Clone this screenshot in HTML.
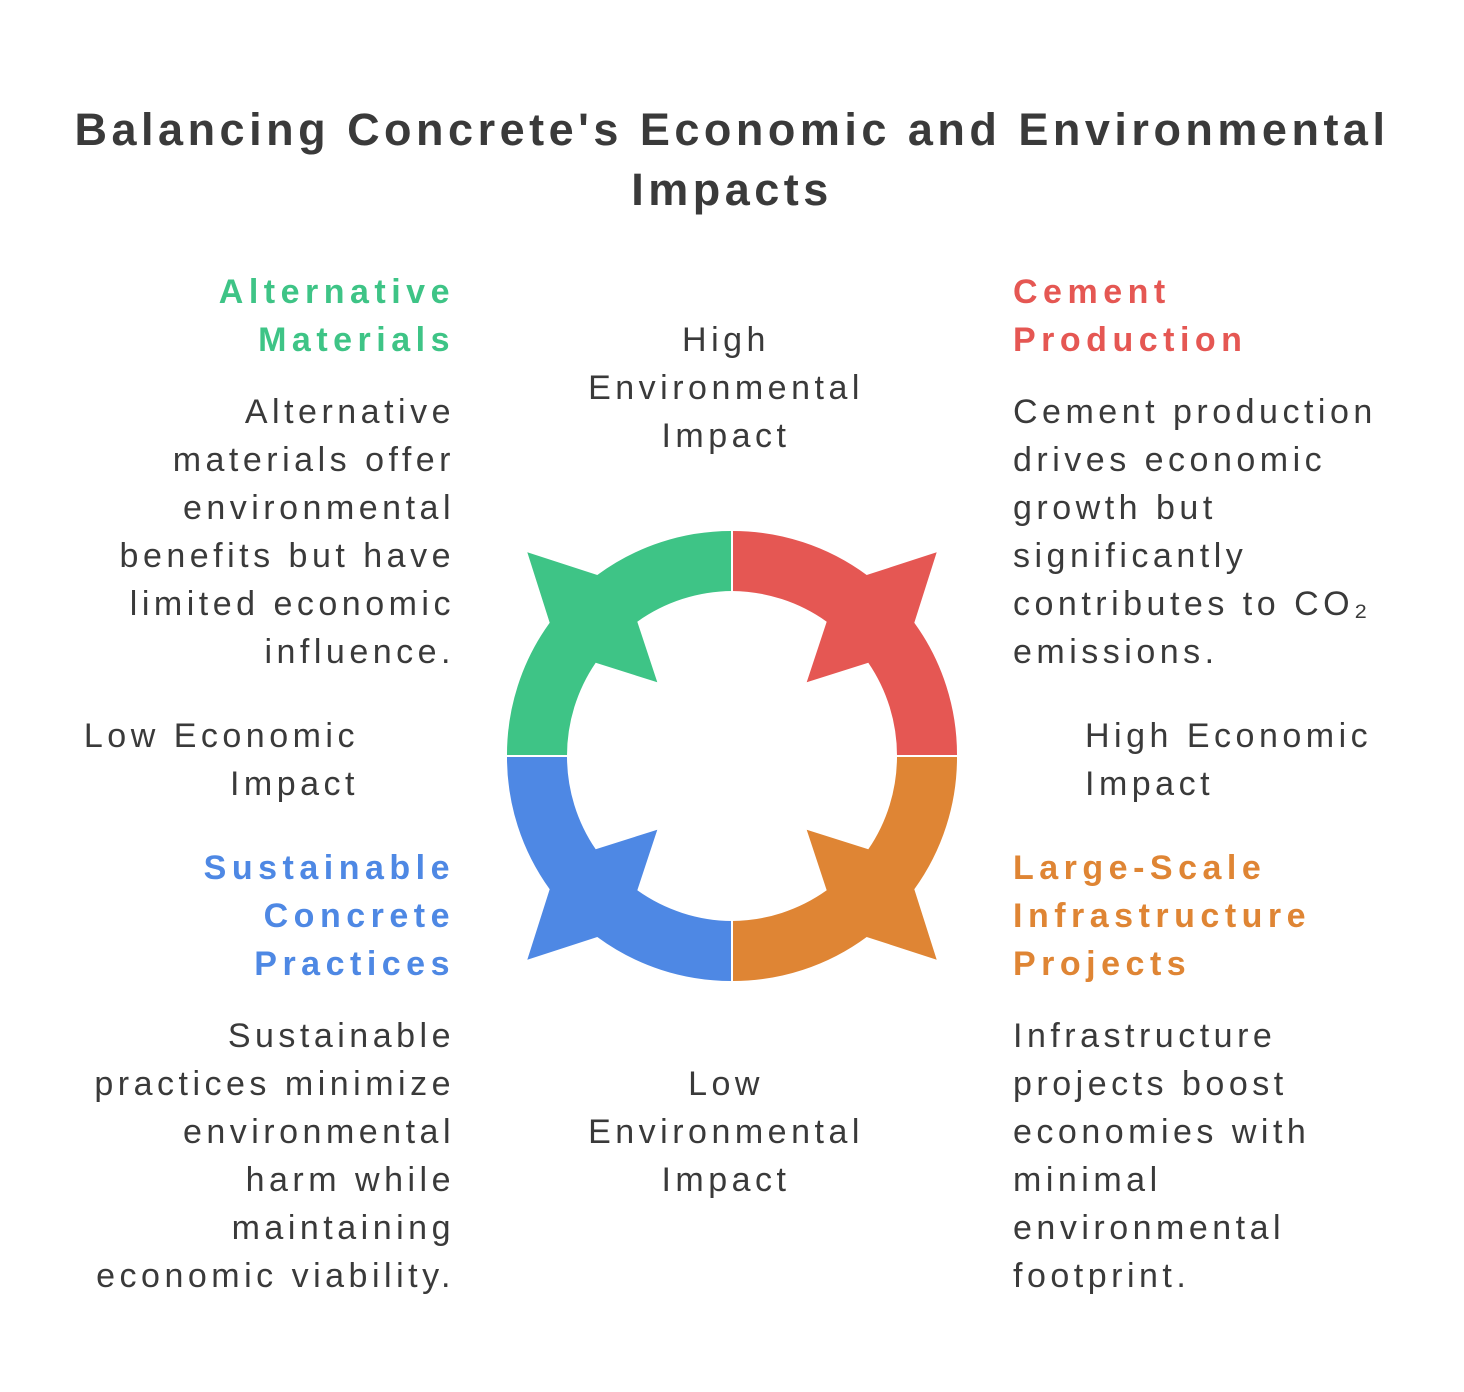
<!DOCTYPE html>
<html><head><meta charset="utf-8"><style>
body{margin:0;width:1464px;height:1392px;background:#fff;position:relative;font-family:"Liberation Sans",sans-serif;color:#3a3a3a;overflow:hidden}
.t{position:absolute;font-size:34px;line-height:48px;letter-spacing:4.5px;white-space:nowrap}
.h{font-weight:bold;letter-spacing:5.5px}
.r{text-align:right}.c{text-align:center}
.r{margin-right:-4px}
</style></head><body>
<div class="t c" style="left:0;width:1464px;top:100px;font-size:45px;line-height:60px;font-weight:bold;letter-spacing:4.5px">Balancing Concrete's Economic and Environmental<br>Impacts</div>

<div class="t r h" style="right:1013px;top:268px;color:#3EC486">Alternative<br>Materials</div>
<div class="t r" style="right:1013px;top:388px">Alternative<br>materials offer<br>environmental<br>benefits but have<br>limited economic<br>influence.</div>

<div class="t h" style="left:1013px;top:268px;color:#E55753">Cement<br>Production</div>
<div class="t" style="left:1013px;top:388px">Cement production<br>drives economic<br>growth but<br>significantly<br>contributes to CO₂<br>emissions.</div>

<div class="t r h" style="right:1013px;top:844px;color:#4E88E4">Sustainable<br>Concrete<br>Practices</div>
<div class="t r" style="right:1013px;top:1012px">Sustainable<br>practices minimize<br>environmental<br>harm while<br>maintaining<br>economic viability.</div>

<div class="t h" style="left:1013px;top:844px;color:#DF8534">Large-Scale<br>Infrastructure<br>Projects</div>
<div class="t" style="left:1013px;top:1012px">Infrastructure<br>projects boost<br>economies with<br>minimal<br>environmental<br>footprint.</div>

<div class="t c" style="left:526px;width:400px;top:316px">High<br>Environmental<br>Impact</div>
<div class="t c" style="left:526px;width:400px;top:1060px">Low<br>Environmental<br>Impact</div>
<div class="t r" style="right:1109px;top:712px">Low Economic<br>Impact</div>
<div class="t" style="left:1085px;top:712px">High Economic<br>Impact</div>

<svg style="position:absolute;left:0;top:0" width="1464" height="1392">
<defs><path id="q" d="M0,-225 A225,225 0 0 1 134.7,-181 L204.7,-203.7 L182.3,-133.3 A225,225 0 0 1 225,0 L165,0 A165,165 0 0 0 136.3,-93.3 L74.7,-73.7 L94.7,-134.3 A165,165 0 0 0 0,-165 Z"/></defs>
<g transform="translate(732,756)">
<use href="#q" fill="#E55753"/>
<use href="#q" fill="#3EC486" transform="scale(-1,1)"/>
<use href="#q" fill="#DF8534" transform="scale(1,-1)"/>
<use href="#q" fill="#4E88E4" transform="scale(-1,-1)"/>
<line x1="0" y1="-230" x2="0" y2="230" stroke="#fff" stroke-width="2"/>
<line x1="-230" y1="0" x2="230" y2="0" stroke="#fff" stroke-width="2"/>
</g>
</svg>
</body></html>
